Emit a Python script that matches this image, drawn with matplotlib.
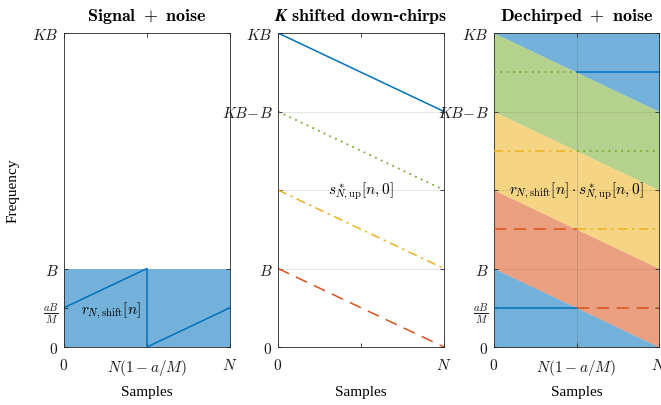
import numpy as np
import matplotlib
matplotlib.use("Agg")
import matplotlib.pyplot as plt

plt.rcParams['mathtext.fontset'] = 'cm'
plt.rcParams['font.family'] = ['Liberation Serif', 'DejaVu Serif']

# ---- data (frequencies in units of B, samples in units of N) ----
K = 4
a_over_M = 0.5
signal_x = [0, 0.5, 0.5, 1]          # r_{N,shift}[n]
signal_y = [0.5, 1, 0, 0.5]
chirp_starts = [4, 3, 2, 1]          # down-chirps start frequencies (x B)
chirp_slope = -1                     # per N
tone_levels = [3.5, 2.5, 1.5, 0.5]   # dechirped tones (x B)

blue, red, yellow, green = '#0072BD', '#D95319', '#EDB120', '#77AC30'
chirp_colors = [blue, green, yellow, red]
chirp_styles = ['-', (0, (1, 2.5)), (0, (6, 3, 1.5, 3)), (0, (8, 5))]

xt_full = ['$0$', r'$N(1-a/M)$', '$N$']
xt_mid = ['$0$', '', '$N$']

fig = plt.figure(figsize=(6.61, 4.06), dpi=100)
W, H = 661, 406
def ax_at(x0, x1, y0=34, y1=348):
    return fig.add_axes([x0 / W, (H - y1) / H, (x1 - x0) / W, (y1 - y0) / H])

axes = [ax_at(64, 230), ax_at(278, 444), ax_at(494, 659)]
spine_c = '#262626'

for ax in axes:
    ax.set_xlim(0, 1)
    ax.set_ylim(0, K)
    ax.tick_params(direction='in', length=3, width=0.6, top=True, right=True,
                   colors=spine_c, labelsize=11, labelcolor='#1a1a1a')
    ax.tick_params(axis='y', pad=4)
    ax.tick_params(axis='x', pad=7)
    for s in ax.spines.values():
        s.set_color(spine_c)
        s.set_linewidth(0.6)
    ax.set_xlabel('Samples', fontsize=11)
    ax.xaxis.set_label_coords(0.5, -0.12)

# Panel 1
ax = axes[0]
ax.fill_between([0, 1], 0, 1, color=blue, alpha=0.55, lw=0)
ax.plot(signal_x, signal_y, color=blue, lw=1.1)
ax.text(0.46, 0.47, r'$r_{N,\mathrm{shift}}[n]$', fontsize=11, ha='right', va='center')
ax.set_xticks([0, 1 - a_over_M, 1], xt_full)
ax.set_yticks([0, a_over_M, 1, K], ['$0$', r'$\frac{aB}{M}$', '$B$', '$KB$'])
ax.set_title(r'$\mathbf{Signal\ +\ noise}$', fontsize=13, pad=9)
ax.set_ylabel('Frequency', fontsize=11)
ax.yaxis.set_label_coords(-0.27, 0.5)

# Panel 2
ax = axes[1]
ax.grid(axis='y', color='#e6e6e6', lw=0.8, zorder=0)
ax.set_axisbelow(True)
x = np.array([0, 1])
for c0, col, ls in zip(chirp_starts, chirp_colors, chirp_styles):
    ax.plot(x, c0 + chirp_slope * x, color=col, ls=ls, lw=1.3 if col == green else 1.1)
ax.text(0.5, 2.0, r'$s^*_{N,\mathrm{up}}[n,0]$', fontsize=11, ha='center', va='center')
ax.set_xticks([0, 1 - a_over_M, 1], xt_mid)
ax.set_yticks([0, 1, 2, K - 1, K], ['$0$', '$B$', '', r'$KB\!-\!B$', '$KB$'])
ax.set_title(r'$\mathbfit{K}\ \mathbf{shifted\ down}$' + '-' + r'$\mathbf{chirps}$',
             fontsize=13, pad=9, fontweight='bold')

# Panel 3
ax = axes[2]
band_colors = [blue, green, yellow, red, blue]
bounds = [K + 1] + chirp_starts + [0]
xx = np.array([0, 1])
for i, col in enumerate(band_colors):
    upper = np.minimum(bounds[i] + chirp_slope * xx, K)
    lower = np.maximum(bounds[i + 1] + chirp_slope * xx, 0) if i < 4 else np.zeros(2)
    if i == 0:
        upper = np.array([K, K])
    ax.fill_between(xx, lower, upper, color=col, alpha=0.55, lw=0, zorder=1)
# dechirped tones: first half uses chirp i, second half uses chirp i+1 (wrapped)
first_half = [green, yellow, red, blue]
second_half = [blue, green, yellow, red]
style_of = dict(zip(chirp_colors, chirp_styles))
for lvl, c1, c2 in zip(tone_levels, first_half, second_half):
    for (xa, xb), c in (((0, 1 - a_over_M), c1), ((1 - a_over_M, 1), c2)):
        ax.plot([xa, xb], [lvl, lvl], color=c, ls=style_of[c],
                lw=1.3 if c == green else 1.1, zorder=3)
for gy in [1, 2, 3]:
    ax.axhline(gy, color='#555555', lw=0.6, alpha=0.15, zorder=2)
ax.axvline(1 - a_over_M, color='#555555', lw=0.6, alpha=0.25, zorder=2)
ax.text(0.5, 2.0, r'$r_{N,\mathrm{shift}}[n]\cdot s^*_{N,\mathrm{up}}[n,0]$', fontsize=11,
        ha='center', va='center', zorder=4)
ax.set_xticks([0, 1 - a_over_M, 1], xt_full)
ax.set_yticks([0, a_over_M, 1, 2, K - 1, K],
              ['$0$', r'$\frac{aB}{M}$', '$B$', '', r'$KB\!-\!B$', '$KB$'])
ax.set_title(r'$\mathbf{Dechirped\ +\ noise}$', fontsize=13, pad=9)

fig.savefig('out.png', dpi=100)
